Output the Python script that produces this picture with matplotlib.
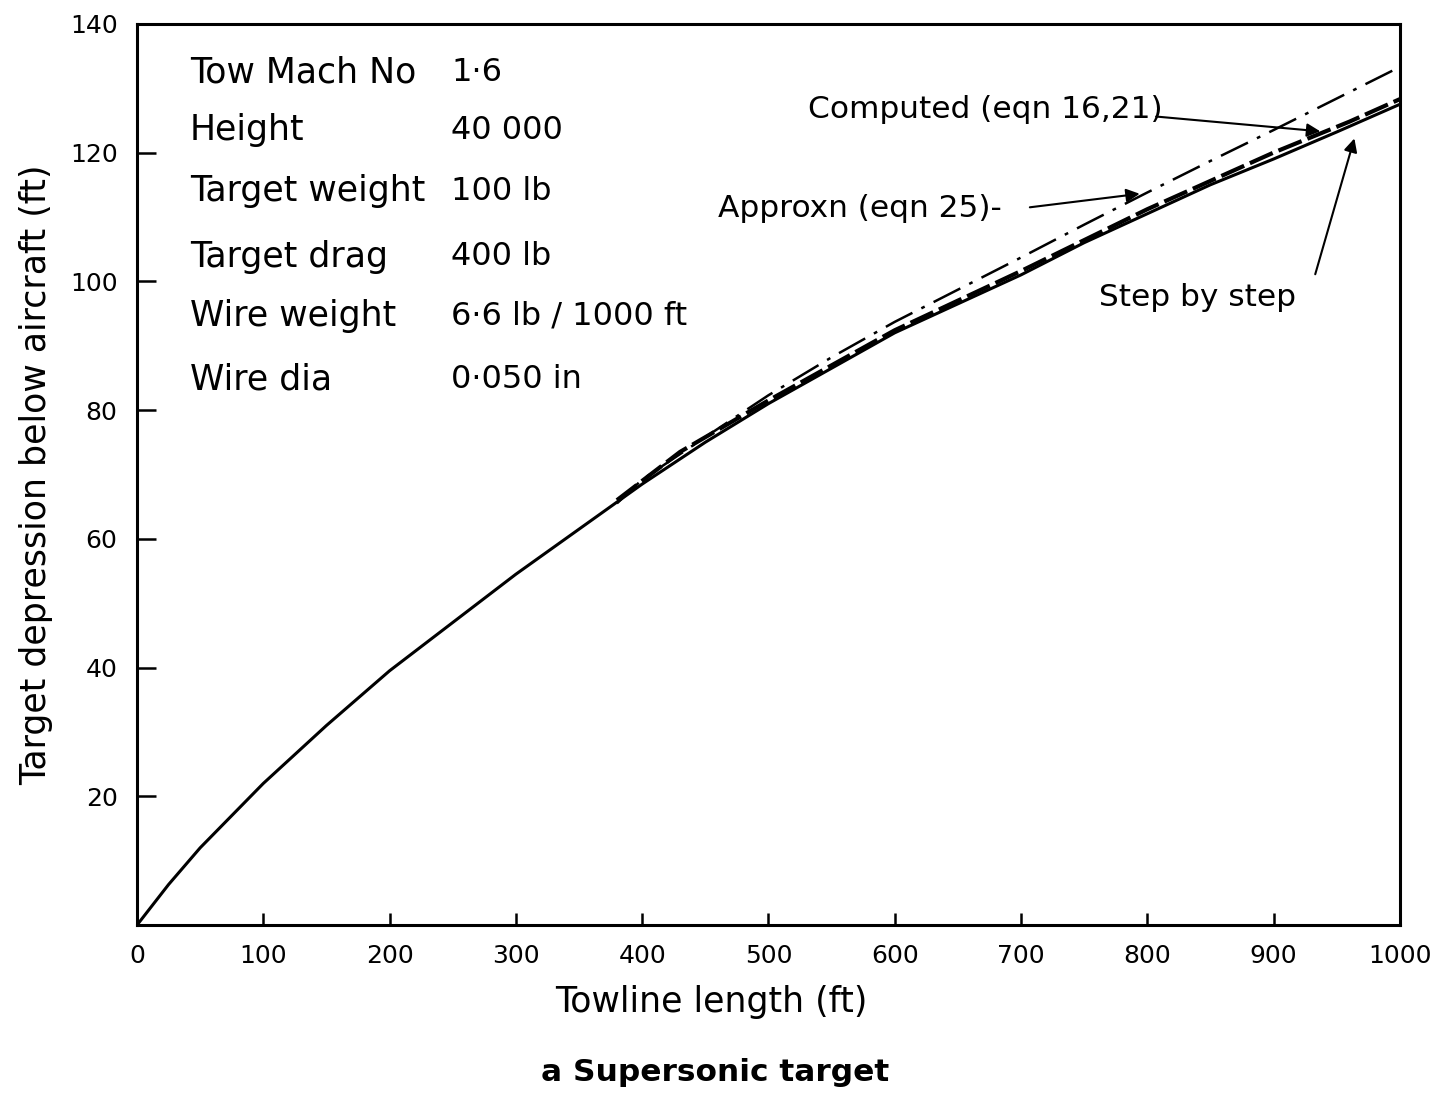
import matplotlib
matplotlib.use("Agg")
import matplotlib.pyplot as plt

# Towline length (ft) and target depression (ft)
computed_x = [0, 25, 50, 100, 150, 200, 250, 300, 350, 400, 450, 500,
              550, 600, 650, 700, 750, 800, 850, 900, 950, 1000]
computed_y = [0, 6.3, 12, 22, 31, 39.5, 47, 54.5, 61.5, 68.5, 75, 81,
              86.5, 92, 96.5, 101, 106, 110.5, 115, 119, 123.2, 127.5]

approx_x = [380, 400, 450, 500, 550, 600, 650, 700, 750, 800, 850, 900, 950, 1000]
approx_y = [65.5, 69.2, 75.8, 82.3, 88.2, 93.7, 98.7, 103.7, 108.8, 113.8, 118.7, 123.5, 128.4, 133.3]

step_x = [380, 430, 500, 600, 700, 800, 900, 960, 1000]
step_y = [66, 73.5, 81.5, 92.4, 101.6, 111.2, 120, 124.8, 128.3]

info_labels = ["Tow Mach No", "Height", "Target weight", "Target drag",
               "Wire weight", "Wire dia"]
info_values = ["1·6", "40 000", "100 lb", "400 lb", "6·6 lb / 1000 ft", "0·050 in"]
info_y = [132.5, 123.5, 114, 103.8, 94.6, 84.8]

x_ticks = [0, 100, 200, 300, 400, 500, 600, 700, 800, 900, 1000]
y_ticks = [20, 40, 60, 80, 100, 120, 140]

fig = plt.figure(figsize=(14.35, 10.99), dpi=100)
ax = fig.add_axes([0.0955, 0.1583, 0.880, 0.820])

ax.plot(computed_x, computed_y, color="black", lw=2.2)
ax.plot(approx_x, approx_y, color="black", lw=1.8, dashes=[12, 4, 1.5, 4])
ax.plot(step_x, step_y, color="black", lw=3.0, dashes=[6, 1.5])

ax.set_xlim(0, 1000)
ax.set_ylim(0, 140)
ax.set_xticks(x_ticks)
ax.set_yticks(y_ticks)
ax.tick_params(axis="x", direction="in", length=9, width=1.8, labelsize=18, pad=14)
ax.tick_params(axis="y", direction="in", length=14, width=1.8, labelsize=18, pad=14)
for s in ax.spines.values():
    s.set_linewidth(2.2)

ax.set_xlabel("Towline length (ft)", fontsize=25, labelpad=12, x=0.455)
ax.set_ylabel("Target depression below aircraft (ft)", fontsize=25, labelpad=12)

for lab, val, yy in zip(info_labels, info_values, info_y):
    ax.text(42, yy, lab, fontsize=25, va="center", ha="left")
    ax.text(249, yy, val, fontsize=23, va="center", ha="left")

# curve labels and their arrows
arrow = dict(arrowstyle="-|>", color="black", lw=1.5,
             shrinkA=0, shrinkB=0, mutation_scale=20)
ax.text(531, 126.7, "Computed (eqn 16,21)", fontsize=22.5, va="center", ha="left")
ax.annotate("", xy=(937, 123.3), xytext=(807, 125.6), arrowprops=arrow)
ax.text(460, 111.3, "Approxn (eqn 25)-", fontsize=22.5, va="center", ha="left")
ax.annotate("", xy=(794, 113.6), xytext=(707, 111.5), arrowprops=arrow)
ax.text(762, 97.5, "Step by step", fontsize=22.5, va="center", ha="left")
ax.annotate("", xy=(964, 122.2), xytext=(933, 101.1), arrowprops=arrow)

fig.text(0.498, 0.024, "a Supersonic target", fontsize=22.5, fontweight="bold",
         ha="center", va="center")

fig.savefig("out.png", dpi=100, facecolor="white")
